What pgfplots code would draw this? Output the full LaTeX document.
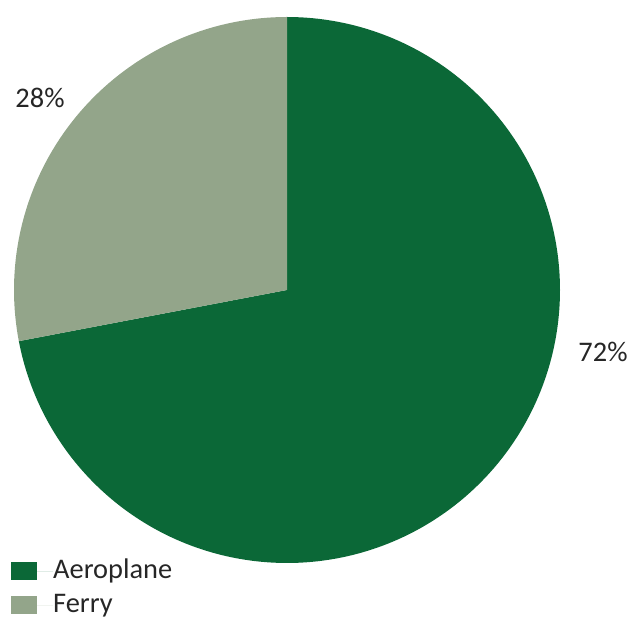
\documentclass[border=0pt]{standalone}
\usepackage{pgfplots}
\pgfplotsset{compat=1.18}
\usepackage{fontspec}
\setmainfont{Carlito}
\definecolor{aero}{HTML}{0B6837}
\definecolor{ferry}{HTML}{93A58A}
\definecolor{txt}{HTML}{262626}
% data (percent)
\def\aeroval{72}
\def\ferryval{28}
\begin{document}
\fontsize{28.5}{34}\selectfont
\begin{tikzpicture}
\pgfmathsetmacro\aeroStart{90-\aeroval*3.6}
\pgfmathsetmacro\ferryEnd{90+\ferryval*3.6}
\begin{axis}[name=ax,
  width=629bp, height=619bp, scale only axis,
  xmin=0, xmax=629, ymin=0, ymax=619,
  hide axis, clip=false,
  legend style={at={(axis cs:11,0.5)}, anchor=south west, draw=none, fill=none,
    font=\fontsize{28.5}{34}\selectfont\color{txt}, row sep=8bp,
    inner sep=0pt, nodes={inner sep=0bp, text depth=0.2em, text height=0.72em}},
  legend cell align=left,
  legend image code/.code={\fill[#1] (0bp,-9bp) rectangle (26bp,9bp);
     \path (0bp,0bp) -- (42bp,0bp);},
]
\addplot[fill=aero, draw=none, domain=\aeroStart:90, samples=240]
  ({287+273*cos(x)},{329+273*sin(x)}) -- (axis cs:287,329) -- cycle;
\addlegendentry{Aeroplane}
\addplot[fill=ferry, draw=none, domain=90:\ferryEnd, samples=120]
  ({287+273*cos(x)},{329+273*sin(x)}) -- (axis cs:287,329) -- cycle;
\addlegendentry{Ferry}
\node[text=txt, font=\fontsize{28.5}{34}\selectfont] at (axis cs:603,267) {\aeroval\%};
\node[text=txt, font=\fontsize{28.5}{34}\selectfont] at (axis cs:40,521) {\ferryval\%};
\end{axis}
\pgfresetboundingbox
\path (ax.south west) rectangle (ax.north east);
\end{tikzpicture}
\end{document}
